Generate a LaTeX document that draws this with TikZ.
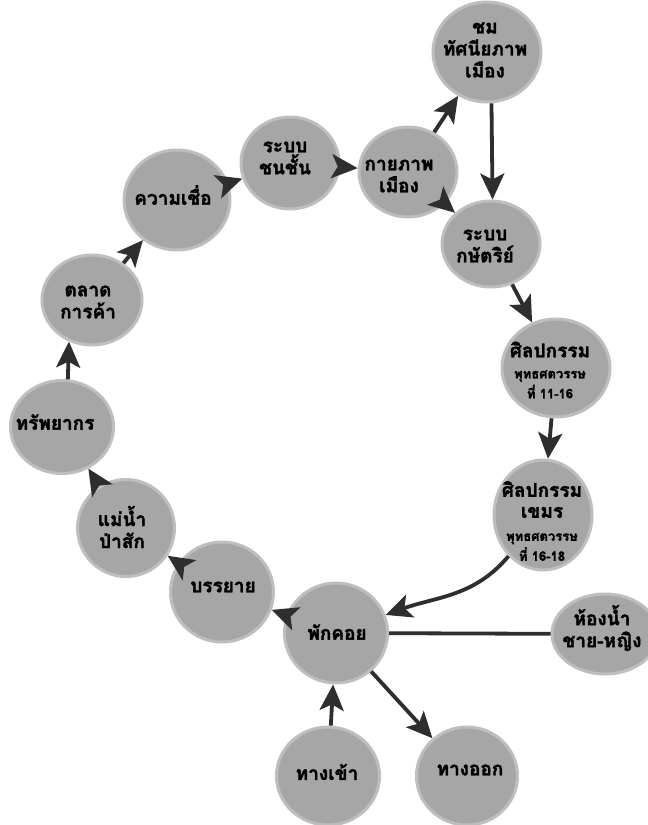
\documentclass[tikz,border=0pt]{standalone}
\usepackage{fontspec}
\newfontfamily\thaifont[Script=Thai, FakeBold=2]{Loma}
\usetikzlibrary{shapes.geometric,arrows.meta}
\definecolor{blobfill}{HTML}{A6A6A6}
\definecolor{blobrim}{HTML}{BEBEBE}
\definecolor{arrowc}{HTML}{2E2E2E}
\newcommand{\smtxt}{\fontsize{13}{14}\selectfont}
\begin{document}
\begin{tikzpicture}[x=1pt,y=1pt,
  blob/.style={ellipse, fill=blobfill, draw=blobrim, line width=3pt, inner sep=0pt},
  lbl/.style={align=center, inner sep=0pt, text=black, font=\thaifont\bfseries\fontsize{19}{22}\selectfont},
  link/.style={draw=arrowc, line width=3.8pt, -{Stealth[length=26pt,width=24pt,inset=6pt]}},
  plainlink/.style={draw=arrowc, line width=3.8pt}]
\useasboundingbox (0,0) rectangle (648,-825);
\clip (0,0) rectangle (648,-825);
\fill[white] (0,0) rectangle (648,-825);
% blobs
\node[blob, minimum width=108pt, minimum height=100pt] (chom)   at (487,-52)  {};
\node[blob, minimum width=98pt,  minimum height=92pt]  (klass)  at (290,-163) {};
\node[blob, minimum width=98pt,  minimum height=90pt]  (phys)   at (408,-172) {};
\node[blob, minimum width=106pt, minimum height=100pt] (belief) at (177,-200) {};
\node[blob, minimum width=98pt,  minimum height=86pt]  (king)   at (491,-244) {};
\node[blob, minimum width=100pt, minimum height=90pt]  (market) at (92,-300)  {};
\node[blob, minimum width=108pt, minimum height=98pt]  (art1)   at (556,-368) {};
\node[blob, minimum width=103pt, minimum height=93pt]  (res)    at (62,-427)  {};
\node[blob, minimum width=98pt,  minimum height=110pt] (art2)   at (543,-515) {};
\node[blob, minimum width=97pt,  minimum height=97pt]  (river)  at (126,-528) {};
\node[blob, minimum width=103pt, minimum height=100pt] (lect)   at (222,-592) {};
\node[blob, minimum width=103pt, minimum height=100pt] (phak)   at (336,-633) {};
\node[blob, minimum width=106pt, minimum height=80pt]  (wc)     at (605,-634) {};
\node[blob, minimum width=103pt, minimum height=98pt]  (enter)  at (328,-776) {};
\node[blob, minimum width=101pt, minimum height=98pt]  (exit)   at (467,-776) {};
% connectors
\draw[link] (belief) -- (klass);
\draw[link] (klass) -- (phys);
\draw[link] (phys) -- (chom);
\draw[link] (phys) -- (king);
\draw[link] (chom.-85) -- (king.88);
\draw[link] (king) -- (art1);
\draw[link] (art1) -- (art2);
\draw[link] (art2) to[out=-130,in=20] (phak);
\draw[link] (phak) -- (lect);
\draw[link] (lect) -- (river);
\draw[link] (river) -- (res);
\draw[link] (res.83) -- (market.241);
\draw[link] (market) -- (belief);
\draw[link] (enter) -- (phak);
\draw[link] (phak) -- (exit);
\draw[plainlink] (phak) -- (wc);
% labels
\node[lbl] (tchom)   at (485,-50)  {ชม\\ทัศนียภาพ\\เมือง};
\node[lbl] (tklass)  at (285,-158) {ระบบ\\ชนชั้น};
\node[lbl] (tphys)   at (399,-176) {กายภาพ\\เมือง};
\node[lbl] (tbelief) at (173,-195) {ความเชื่อ};
\node[lbl] (tking)   at (485,-246) {ระบบ\\กษัตริย์};
\node[lbl] (tmarket) at (88,-302)  {ตลาด\\การค้า};
\node[lbl] (tart1)   at (550,-370) {ศิลปกรรม\\[-1pt]{\smtxt พุทธศตวรรษ}\\[-2pt]{\smtxt ที่ 11-16}};
\node[lbl] (tres)    at (55,-422)  {ทรัพยากร};
\node[lbl] (tart2)   at (542,-521) {ศิลปกรรม\\[-1pt]เขมร\\[1pt]{\smtxt พุทธศตวรรษ}\\[-2pt]{\smtxt ที่ 16-18}};
\node[lbl] (triver)  at (122,-527) {แม่น้ำ\\ป่าสัก};
\node[lbl] (tlect)   at (223,-587) {บรรยาย};
\node[lbl] (tphak)   at (337,-632) {พักคอย};
\node[lbl] (twc)     at (602,-628) {ห้องน้ำ\\ชาย-หญิง};
\node[lbl] (tenter)  at (327,-772) {ทางเข้า};
\node[lbl] (texit)   at (470,-770) {ทางออก};
\end{tikzpicture}
\end{document}
